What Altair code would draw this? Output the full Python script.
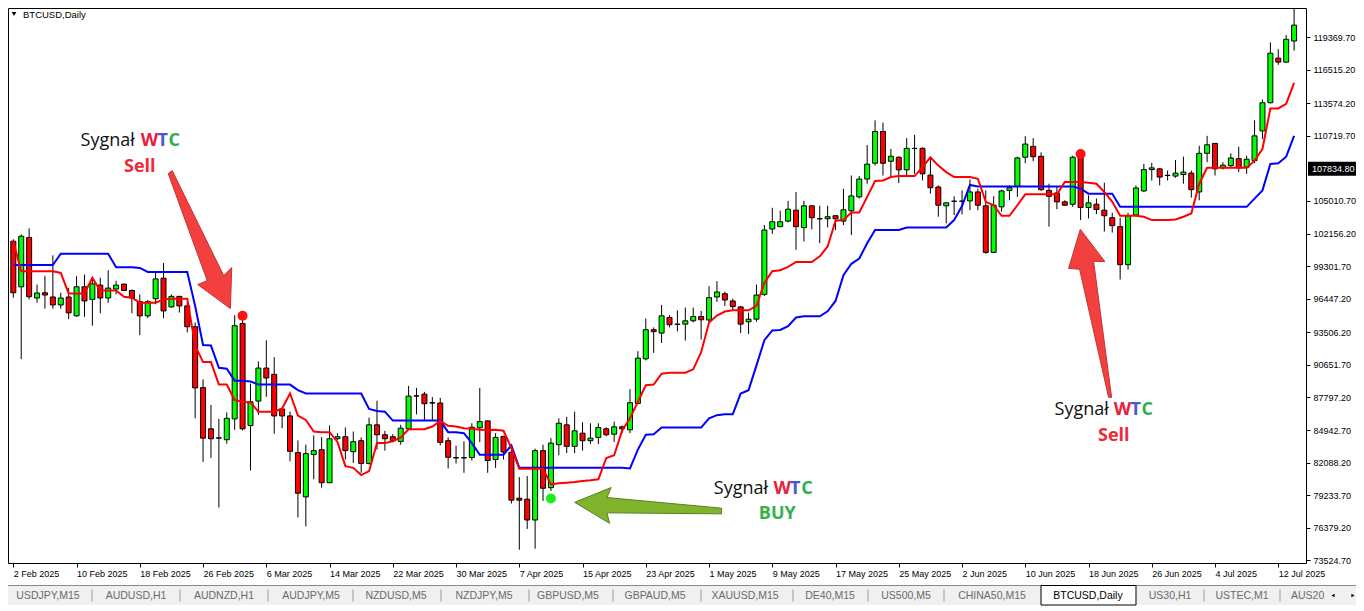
import altair as alt
import pandas as pd

# ---------------- data (BTCUSD daily, 2 Feb 2025 .. 14 Jul 2025) ----------------
open_ = [
101484, 97490, 101806, 96509, 96969, 96596, 95901, 96596, 94946, 97490,
96388, 97638, 96509, 97291, 97725, 97169, 96188, 94946, 96448, 98246,
95728, 96648, 95815, 93991, 88660, 85048, 84231, 84092, 85916, 94278,
85334, 87479, 90370, 89823, 86784, 86176, 82964, 79082, 82790, 83224,
80324, 84179, 84353, 83050, 84006, 82008, 85395, 84527, 84353, 83945,
85048, 87939, 88087, 87331, 87305, 84006, 82495, 82495, 82530, 85134,
85742, 82356, 84379, 82990, 78969, 78883, 77059, 83137, 79890, 83658,
85395, 83511, 84665, 84006, 84292, 85048, 84579, 85221, 84961, 87270,
91178, 93731, 93435, 94799, 94217, 94217, 94512, 94885, 94580, 96596,
96883, 96249, 95728, 94425, 94651, 96822, 102553, 102761, 103247, 104202,
102674, 104584, 103455, 103455, 103716, 103247, 104150, 105366, 106929, 108318,
111097, 108492, 108839, 107736, 109620, 109620, 107276, 106234, 104584, 104984,
104984, 105018, 105800, 104584, 100503, 104497, 105939, 106286, 108839, 109794,
108926, 105939, 105713, 104932, 104723, 108778, 104437, 104723, 104202, 103542,
102761, 99427, 103768, 105887, 107762, 107823, 107241, 107189, 107328, 107450,
105800, 109186, 110055, 107909, 108110, 108717, 107971, 108544, 111149, 113615,
117522, 117175, 119024]

high = [
101658, 102092, 102613, 97690, 98445, 100243, 96969, 97403, 98419, 98558,
98272, 98272, 98940, 98011, 97760, 97256, 96822, 96335, 98854, 99574,
96822, 96700, 96101, 94364, 89389, 87131, 85916, 86489, 94998, 94651,
89007, 90952, 92801, 91325, 86897, 86550, 84032, 83658, 84466, 84318,
85334, 84665, 85160, 84813, 84292, 86029, 87505, 84874, 84579, 85395,
88807, 88634, 88286, 87826, 87766, 84292, 83571, 83945, 85534, 88634,
85768, 84665, 84440, 83658, 80819, 80906, 83311, 83658, 84231, 85968,
86090, 86550, 85621, 85534, 85534, 85187, 85681, 85334, 88521, 91846,
94712, 93930, 95901, 94998, 95432, 95667, 95667, 95380, 97551, 97985,
97056, 96448, 95815, 95233, 97690, 102900, 104411, 104150, 105018, 105800,
105018, 104620, 104584, 104584, 103740, 106086, 107241, 107189, 109907, 112078,
111878, 109560, 108926, 110515, 110801, 109707, 108839, 106373, 104870, 105418,
105939, 106894, 106086, 105939, 105418, 106000, 106373, 108891, 110688, 110515,
109273, 106521, 106234, 105070, 108978, 108952, 105505, 105218, 106607, 103976,
103542, 103976, 106373, 108257, 108344, 107884, 107675, 108604, 108891, 107675,
109846, 110715, 110080, 108405, 109186, 109759, 108978, 112078, 113901, 118911,
118303, 119545, 121916]

low = [
96535, 91152, 96388, 96101, 95580, 95580, 95580, 94651, 94859, 94859,
94078, 95172, 96101, 96822, 97140, 95172, 93262, 94738, 95953, 94738,
95667, 95233, 93496, 85968, 82147, 82495, 78153, 83745, 84961, 84900,
81401, 86263, 87852, 84613, 85100, 82208, 77285, 76503, 80619, 79890,
80290, 84092, 82356, 82061, 81192, 81922, 83224, 83137, 83884, 83658,
84961, 86315, 85829, 85768, 83597, 81574, 82008, 81192, 82269, 83884,
81192, 81626, 82356, 78501, 74454, 76278, 74541, 78735, 79603, 82729,
82929, 82929, 83137, 83710, 83710, 84379, 83884, 84665, 84665, 87184,
91039, 91699, 92567, 93930, 93583, 92775, 94364, 92862, 94364, 96162,
95815, 95380, 93435, 93348, 94425, 96683, 102118, 102700, 103134, 100729,
101458, 102526, 101311, 102700, 102466, 102900, 102031, 105218, 106521, 108110,
107241, 107102, 106581, 107241, 107389, 106807, 105652, 103629, 103047, 103768,
103830, 104202, 104202, 100382, 100442, 104063, 105070, 105366, 108318, 108492,
105887, 102761, 104289, 104584, 104497, 103334, 103482, 103855, 102327, 102240,
98124, 98992, 103681, 105800, 106807, 106373, 106807, 107042, 106521, 105305,
105070, 108405, 107241, 107762, 107971, 107537, 107389, 108318, 110428, 113554,
116940, 117140, 118182]

close = [
96969, 101919, 96622, 96943, 96770, 95901, 96509, 95207, 97490, 96249,
97751, 96509, 97377, 97638, 97169, 96509, 94946, 96188, 98185, 95380,
96648, 95815, 93991, 88634, 84231, 84179, 84260, 85968, 94078, 85048,
87418, 90370, 89502, 86176, 86176, 83076, 79404, 82877, 83137, 80324,
84179, 84353, 83137, 83919, 82008, 85395, 84527, 84179, 84006, 85100,
87913, 87913, 87244, 87305, 83858, 82555, 82530, 82520, 85187, 85681,
82269, 84292, 83016, 78796, 78796, 77059, 83137, 79838, 83797, 85534,
83511, 84874, 84006, 84231, 85160, 84527, 85221, 85048, 87331, 91238,
93731, 93557, 94946, 94165, 94200, 94512, 94885, 94599, 96535, 97030,
96335, 95754, 94217, 94651, 96770, 102466, 103195, 103195, 104289, 102761,
104584, 103542, 103440, 103629, 103455, 104237, 105453, 106929, 108231, 111097,
108318, 108926, 107736, 109620, 109600, 107389, 106173, 104636, 104845, 104990,
105000, 105800, 104636, 100503, 104636, 105887, 106173, 108778, 109994, 108891,
106000, 105418, 104932, 104636, 108839, 104437, 104845, 104263, 103716, 102848,
99427, 103716, 106147, 107762, 107909, 107102, 107260, 107450, 107537, 106000,
109186, 109933, 107823, 108144, 108778, 107909, 108665, 110715, 113615, 117956,
117175, 119172, 120413]

# WTC indicator lines
wtc_fast = [
101484, 98854, 98854, 98854, 98854, 98854, 98706, 96908, 96908, 96908,
98272, 97169, 97169, 97169, 96622, 96535, 96101, 96101, 96101, 96388,
96448, 96448, 96448, 92341, 90891, 90891, 88920, 88920, 87566, 87418,
87357, 86550, 86550, 86550, 86836, 88139, 86202, 85829, 84813, 84752,
84752, 83900, 81774, 81626, 80993, 81340, 83797, 83797, 83945, 84292,
85013, 85013, 85013, 85247, 85742, 85308, 85247, 85100, 85048, 84961,
84945, 84961, 84874, 83363, 81540, 81540, 81540, 81540, 80185, 80272,
80324, 80385, 80472, 80532, 80619, 82495, 82729, 84874, 85968, 87418,
88868, 88920, 89875, 89962, 89962, 89962, 90257, 91760, 94364, 94972,
95319, 95432, 95432, 95432, 95815, 97838, 98854, 98940, 99227, 99661,
99661, 99661, 100156, 101024, 103282, 103334, 104003, 104003, 105366, 106755,
106807, 107102, 107189, 107189, 107189, 107971, 108839, 108110, 107537, 107102,
107102, 107102, 106955, 104932, 104636, 103716, 103716, 104636, 105592, 105592,
105592, 105592, 105592, 106668, 106668, 106668, 106607, 106521, 105800, 104932,
103716, 103716, 103716, 103629, 103334, 103334, 103334, 103395, 103629, 103916,
106521, 107909, 107909, 107909, 107909, 107909, 107909, 108544, 109560, 113120,
113120, 113528, 115351]

wtc_slow = [
99401, 99401, 99401, 99401, 99401, 99401, 100382, 100382, 100382, 100382,
100382, 100382, 100382, 99201, 99201, 99201, 99140, 98793, 98793, 98793,
98793, 98793, 98793, 95815, 92393, 92341, 90396, 90309, 89268, 89268,
89200, 88920, 88920, 88920, 88920, 88920, 88434, 88139, 88139, 88139,
88139, 88139, 88139, 88139, 88139, 86784, 86610, 86550, 85768, 85768,
85768, 85768, 85768, 85768, 85768, 84752, 84752, 84665, 83797, 82773,
82773, 82773, 82773, 83597, 81626, 81626, 81626, 81626, 81626, 81626,
81626, 81626, 81626, 81626, 81626, 81626, 81626, 81626, 81574, 83224,
84527, 84579, 85160, 85160, 85160, 85160, 85160, 85160, 85968, 86241,
86315, 86315, 88139, 88434, 90605, 92819, 93670, 93713, 94043, 94799,
94911, 94911, 94911, 95337, 96249, 98515, 99505, 99965, 101311, 102466,
102466, 102466, 102466, 102683, 102683, 102683, 102683, 102683, 102683, 103334,
104567, 106416, 106286, 106286, 106286, 106286, 106286, 106286, 106286, 106286,
106286, 106286, 106286, 106286, 106286, 106086, 105652, 105652, 105652, 105652,
104497, 104497, 104497, 104497, 104497, 104497, 104497, 104497, 104497, 104497,
104497, 104497, 104497, 104497, 104497, 104497, 104497, 105218, 105939, 108257,
108318, 108891, 110715]

# signals (candle index, price, kind)
signal_idx = [29, 68, 135]
signal_price = [94946, 78935, 109126]
signal_kind = ["sell", "buy", "sell"]

x_labels = ["2 Feb 2025", "10 Feb 2025", "18 Feb 2025", "26 Feb 2025", "6 Mar 2025",
            "14 Mar 2025", "22 Mar 2025", "30 Mar 2025", "7 Apr 2025", "15 Apr 2025",
            "23 Apr 2025", "1 May 2025", "9 May 2025", "17 May 2025", "25 May 2025",
            "2 Jun 2025", "10 Jun 2025", "18 Jun 2025", "26 Jun 2025", "4 Jul 2025",
            "12 Jul 2025"]
label_step = 8
y_ticks = [73524.70, 76379.20, 79233.70, 82088.20, 84942.70, 87797.20, 90651.70,
           93506.20, 96447.20, 99301.70, 102156.20, 105010.70, 110719.70, 113574.20,
           116515.20, 119369.70]
last_price = 107834.80

# annotation texts
ann_text = ["Sygnał", "W", "T", "C", "Sell",
            "Sygnał", "W", "T", "C", "BUY",
            "Sygnał", "W", "T", "C", "Sell"]
ann_role = ["plain", "w", "t", "c", "sell",
            "plain", "w", "t", "c", "buy",
            "plain", "w", "t", "c", "sell"]
ann_idx = [8.5, 16.125, 18.25, 19.625, 14.0,
           88.6, 96.15, 98.24, 99.65, 94.3,
           131.7, 139.2, 141.3, 142.7, 137.2]
ann_price = [110280, 110280, 110280, 110280, 108023,
             79751, 79751, 79751, 79751, 77580,
             86697, 86697, 86697, 86697, 84379]

tab_labels = ["USDJPY,M15", "AUDUSD,H1", "AUDNZD,H1", "AUDJPY,M5", "NZDUSD,M5",
              "NZDJPY,M5", "GBPUSD,M5", "GBPAUD,M5", "XAUUSD,M15", "DE40,M15",
              "US500,M5", "CHINA50,M15", "US30,H1", "USTEC,M1"]
active_tab = "BTCUSD,Daily"

# ---------------- layout ----------------
W, H = 1298, 555
tab_centers = [40, 128, 216, 303, 388, 476, 560, 647, 737, 822, 898, 984, 1162, 1234]
sep_x = [84, 172, 260, 345, 433, 521, 605, 693, 785, 860, 936, 1196, 1272]

df = pd.DataFrame({"i": list(range(len(open_))), "open": open_, "high": high,
                   "low": low, "close": close, "fast": wtc_fast, "slow": wtc_slow})
sig = pd.DataFrame({"i": signal_idx, "p": signal_price, "kind": signal_kind})
ann = pd.DataFrame({"i": ann_idx, "p": ann_price, "t": ann_text, "role": ann_role})
lp = pd.DataFrame({"p": [last_price]})
one = pd.DataFrame({"k": [0]})

xs = alt.Scale(domain=[-0.04, 162.875], nice=False, zero=False)
ys = alt.Scale(domain=[73291, 121916], nice=False, zero=False)

label_arr = "[" + ",".join("'" + s + "'" for s in x_labels) + "]"
x_axis = alt.Axis(values=[label_step * k for k in range(len(x_labels))],
                  labelExpr=label_arr + "[round(datum.value / %d)]" % label_step,
                  title=None, grid=False, domain=False, ticks=True, tickSize=4,
                  tickColor="black", labelAlign="left", labelBaseline="top",
                  labelPadding=2, labelFont="Liberation Sans", labelFontSize=9,
                  labelColor="black", labelFlush=False, labelOverlap=False)
y_axis = alt.Axis(orient="right", values=y_ticks, format=".2f", title=None,
                  grid=False, domain=False, ticks=True, tickSize=4, tickColor="black",
                  labelPadding=3, labelAlign="left", labelFont="Liberation Sans",
                  labelFontSize=9, labelColor="black", labelOverlap=False,
                  labelFlush=False)


def X(f):
    return alt.X(f, type="quantitative", scale=xs, axis=x_axis)


def Y(f):
    return alt.Y(f, type="quantitative", scale=ys, axis=y_axis)


wicks = alt.Chart(df).mark_rule(color="black", strokeWidth=1).encode(
    x=X("i"), y=Y("low"), y2="high")
bodies = alt.Chart(df).mark_bar(size=5, stroke="black", strokeWidth=1).encode(
    x=X("i"), y=Y("open"), y2="close",
    fill=alt.condition("datum.close >= datum.open", alt.value("#00ff00"), alt.value("#ff0000")))
slow_l = alt.Chart(df).mark_line(color="#0000ff", strokeWidth=2).encode(x=X("i"), y=Y("slow"))
fast_l = alt.Chart(df).mark_line(color="#ff0000", strokeWidth=2).encode(x=X("i"), y=Y("fast"))
dots = alt.Chart(sig).transform_calculate(
    col="datum.kind == 'buy' ? '#18ee18' : '#ff1010'"
).mark_circle(size=100, opacity=1).encode(
    x=X("i"), y=Y("p"), color=alt.Color("col:N", scale=None))

ARROW_SELL_DOWN = "M-0.622,-1.35L-0.582,-1.38L-0.067,-0.33L0.013,-0.41L0,0L-0.327,-0.24L-0.232,-0.28Z"
ARROW_SELL_UP = "M0,0L0.246,0.323L0.133,0.32L0.313,1.68L0.283,1.68L-0.007,0.40L-0.117,0.39Z"
ARROW_BUY = "M0,0L0.365,-0.148L0.323,-0.048L1.47,0.058L1.47,0.115L0.323,0.105L0.35,0.21Z"


def arrow(path, i, p, fill, stroke):
    d = pd.DataFrame({"i": [i], "p": [p]})
    return alt.Chart(d).mark_point(shape=path, size=40000, filled=True, fill=fill,
                                   stroke=stroke, strokeWidth=1, opacity=1).encode(
        x=X("i"), y=Y("p"))


a1 = arrow(ARROW_SELL_DOWN, 27.46, 95580, "#f43f3f", "#c23434")
a2 = arrow(ARROW_BUY, 71.0, 78605, "#80b42c", "#5a7d20")
a3 = arrow(ARROW_SELL_UP, 134.96, 102526, "#f43f3f", "#c23434")

role_color = ("datum.role == 'w' ? '#e8203c' : datum.role == 't' ? '#4858d2' : "
              "datum.role == 'c' ? '#2eae4e' : datum.role == 'sell' ? '#ee2a38' : "
              "datum.role == 'buy' ? '#36b04a' : '#111111'")
txt_plain = alt.Chart(ann).transform_filter("datum.role == 'plain'").transform_calculate(
    col=role_color).mark_text(
    align="left", baseline="middle", font="Open Sans", fontSize=18).encode(
    x=X("i"), y=Y("p"), text="t:N", color=alt.Color("col:N", scale=None))
txt_bold = alt.Chart(ann).transform_filter("datum.role != 'plain'").transform_calculate(
    col=role_color).mark_text(
    align="left", baseline="middle", font="Open Sans", fontSize=18, fontWeight="bold").encode(
    x=X("i"), y=Y("p"), text="t:N", color=alt.Color("col:N", scale=None))

price_box = alt.Chart(lp).mark_rule(color="black", strokeWidth=14, strokeCap="butt").encode(
    x=alt.value(W + 2), x2=alt.value(W + 52), y=Y("p"))
price_txt = alt.Chart(lp).mark_text(align="left", baseline="middle", color="white",
                                    font="Liberation Sans", fontSize=9).encode(
    x=alt.value(W + 6), y=Y("p"), text=alt.Text("p:Q", format=".2f"))

title_tri = alt.Chart(one).mark_point(shape="triangle-down", filled=True, color="black",
                                      size=22, opacity=1).encode(x=alt.value(6), y=alt.value(6))
title_txt = alt.Chart(one).mark_text(text="BTCUSD,Daily", align="left", baseline="middle",
                                     font="Liberation Sans", fontSize=9.5, color="black").encode(
    x=alt.value(15), y=alt.value(6.5))

TY = 587.5
bar_bg = alt.Chart(one).mark_rect(color="#f0f0f0").encode(
    x=alt.value(0), x2=alt.value(1348), y=alt.value(578), y2=alt.value(597))
bar_line = alt.Chart(one).mark_rule(color="#8a8a8a", strokeWidth=1).encode(
    x=alt.value(0), x2=alt.value(1348), y=alt.value(577.5))
active_rect = alt.Chart(one).mark_rect(fill="white", stroke="black", strokeWidth=1).encode(
    x=alt.value(1033), x2=alt.value(1128), y=alt.value(577.5), y2=alt.value(597))

tab_layers = [bar_bg, bar_line, active_rect]
for lab, cx in zip(tab_labels, tab_centers):
    tab_layers.append(alt.Chart(one).mark_text(text=lab, align="center", baseline="middle",
                                               font="Liberation Sans", fontSize=10.5,
                                               color="#6a6a6a").encode(x=alt.value(cx), y=alt.value(TY)))
for sx in sep_x:
    tab_layers.append(alt.Chart(one).mark_rule(color="#9a9a9a", strokeWidth=1).encode(
        x=alt.value(sx), y=alt.value(TY - 6), y2=alt.value(TY + 6)))
tab_layers.append(alt.Chart(one).mark_text(text=active_tab, align="center", baseline="middle",
                                           font="Liberation Sans", fontSize=10.5,
                                           color="black").encode(x=alt.value(1080), y=alt.value(TY)))
tab_layers.append(alt.Chart(one).mark_text(text="AUS20", align="left", baseline="middle",
                                           font="Liberation Sans", fontSize=10.5,
                                           color="#6a6a6a").encode(x=alt.value(1283), y=alt.value(TY)))
tab_layers.append(alt.Chart(one).mark_point(shape="triangle-left", filled=True, color="black",
                                            size=14, opacity=1).encode(x=alt.value(1325), y=alt.value(TY)))
tab_layers.append(alt.Chart(one).mark_point(shape="triangle-right", filled=True, color="black",
                                            size=14, opacity=1).encode(x=alt.value(1345), y=alt.value(TY)))

chart = alt.layer(
    wicks, bodies, slow_l, fast_l, dots, a1, a2, a3, txt_plain, txt_bold,
    price_box, price_txt, title_tri, title_txt, *tab_layers
).properties(
    width=W, height=H, background="white",
    padding={"left": 0, "top": 0, "right": 50, "bottom": 45},
    autosize=alt.AutoSizeParams(type="none")
).configure_view(stroke="black", strokeWidth=1, fill="white")

chart.save("out.html", embed_options={"renderer": "svg", "actions": False})
